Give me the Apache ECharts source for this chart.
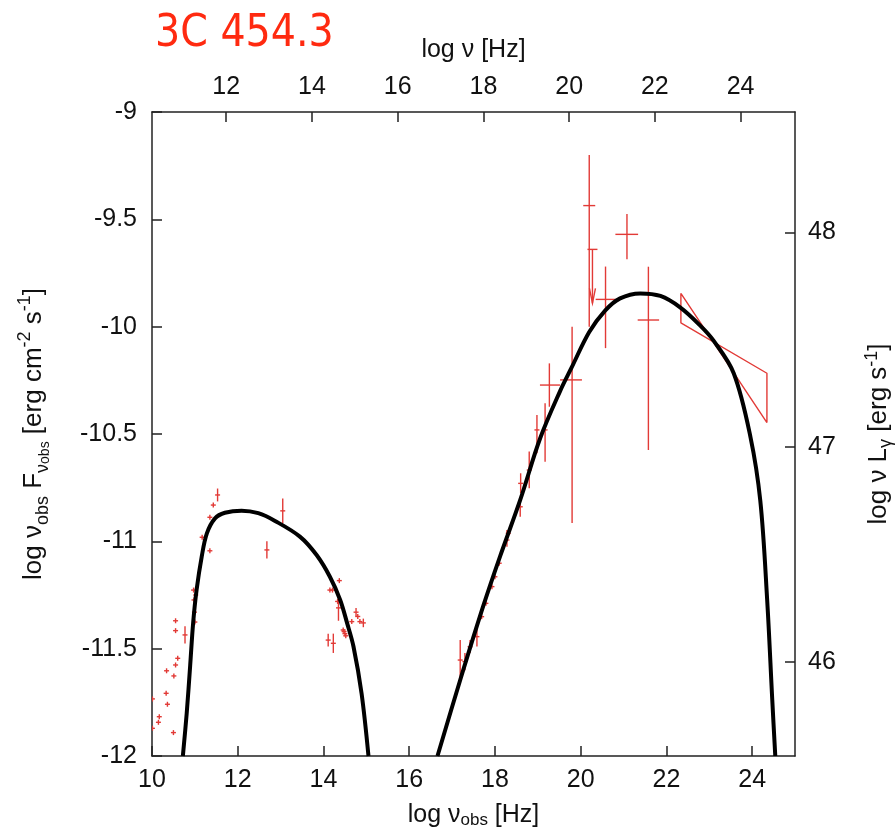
<!DOCTYPE html>
<html><head><meta charset="utf-8">
<script src="https://cdn.jsdelivr.net/npm/echarts@6/dist/echarts.min.js"></script>
<style>html,body{margin:0;padding:0;background:#fff}#c{width:895px;height:830px}</style>
</head><body><div id="c"></div>
<script>
// ---- axis ticks ----
const bottomTicks = [10, 12, 14, 16, 18, 20, 22, 24];
const topTicks = [12, 14, 16, 18, 20, 22, 24];
const rightTicks = [46, 47, 48];
const zShift = 0.269;      // log(1+z): rest-frame axis offset
const lumShift = 57.5604;  // luminosity axis offset

// ---- model curves (black) ----
const syncX = [10.72, 10.81, 10.89, 10.96, 11.04, 11.16, 11.28, 11.47, 11.70, 12.09, 12.48, 12.87, 13.45, 13.84, 14.15, 14.39, 14.55, 14.70, 14.89, 15.05];
const syncY = [-12.0, -11.80, -11.58, -11.38, -11.227, -11.071, -10.963, -10.893, -10.867, -10.857, -10.869, -10.905, -10.978, -11.064, -11.165, -11.273, -11.38, -11.49, -11.71, -12.0];
const icX = [16.66, 17.19, 17.73, 18.12, 18.59, 19.055, 19.52, 19.79, 20.20, 20.57, 20.92, 21.39, 21.86, 22.32, 22.79, 23.10, 23.57, 23.96, 24.19, 24.35, 24.47, 24.54];
const icY = [-12.0, -11.646, -11.30, -11.07, -10.807, -10.52, -10.30, -10.19, -10.025, -9.925, -9.868, -9.845, -9.857, -9.91, -9.995, -10.065, -10.217, -10.513, -10.81, -11.27, -11.74, -12.0];

// ---- low-energy data (radio/IR/optical/UV) ----
const lowX = [10.01,10.01,10.15,10.17,10.33,10.34,10.36,10.50,10.51,10.55,10.60,10.55,10.55,10.77,10.97,10.98,10.99,11.00,11.02,11.17,11.35,11.35,11.43,11.53,12.68,13.05,14.11,14.15,14.21,14.23,14.33,14.35,14.37,14.46,14.48,14.50,14.52,14.66,14.76,14.80,14.85,14.93];
const lowY = [-11.734,-11.871,-11.843,-11.817,-11.708,-11.603,-11.759,-11.891,-11.627,-11.576,-11.545,-11.37,-11.416,-11.436,-11.227,-11.273,-11.33,-11.376,-11.25,-10.981,-11.044,-10.888,-10.831,-10.784,-11.04,-10.858,-11.46,-11.227,-11.227,-11.475,-11.28,-11.31,-11.183,-11.413,-11.42,-11.43,-11.44,-11.374,-11.33,-11.35,-11.374,-11.38];
const lowErr = [0,0,0,0,0,0,0,0,0,0,0,0,0,0.04,0,0,0,0,0,0,0,0,0,0.03,0.04,0.058,0.03,0,0,0.045,0,0.06,0,0,0,0,0,0,0.02,0,0,0.02];

// ---- high-energy data (X-ray / gamma-ray) ----
const hiX   = [17.19,17.30,17.42,17.58,17.69,17.79,17.93,18.00,18.10,18.28,18.31,18.59,18.60,18.80,18.98,19.17,19.27,19.80,20.20,20.58,21.08,21.58];
const hiY   = [-11.553,-11.56,-11.491,-11.444,-11.351,-11.289,-11.211,-11.165,-11.102,-10.994,-10.963,-10.839,-10.73,-10.668,-10.481,-10.481,-10.272,-10.248,-9.436,-9.873,-9.570,-9.969];
const hiXlo = [17.19,17.30,17.42,17.58,17.69,17.79,17.93,18.00,18.10,18.28,18.31,18.59,18.60,18.80,18.98,19.17,19.05,19.52,20.06,20.35,20.81,21.33];
const hiXhi = [17.19,17.30,17.42,17.58,17.69,17.79,17.93,18.00,18.10,18.28,18.31,18.59,18.60,18.80,18.98,19.17,19.52,20.03,20.34,20.81,21.34,21.83];
const hiYlo = [-11.64,-11.60,-11.52,-11.49,-11.351,-11.289,-11.211,-11.165,-11.102,-11.025,-10.963,-10.885,-10.776,-10.753,-10.59,-10.629,-10.373,-10.915,-10.0,-10.10,-9.686,-10.5745];
const hiYhi = [-11.46,-11.52,-11.46,-11.40,-11.351,-11.289,-11.211,-11.165,-11.102,-10.947,-10.963,-10.807,-10.683,-10.582,-10.412,-10.357,-10.171,-10.0,-9.2,-9.72,-9.475,-9.7207];

// ---- upper limit ----
const ulX = [20.275];
const ulTop = [-9.64];
const ulBottom = [-9.891];

// ---- bowtie (gamma-ray spectrum) ----
const bowX = [22.338, 24.345, 24.345, 22.338, 22.338];
const bowY = [-9.8446, -10.447, -10.217, -9.982, -9.8446];

const RED = '#e23a36';
const FONT = 'Liberation Sans';
const TXT = '#111';

const zip = (a, b) => a.map((v, i) => [v, b[i]]);
const lowData = lowX.map((x, i) => [x, lowY[i], x, x, lowY[i] - lowErr[i], lowY[i] + lowErr[i]]);
const hiData = hiX.map((x, i) => [x, hiY[i], hiXlo[i], hiXhi[i], hiYlo[i], hiYhi[i]]);
const ulData = ulX.map((x, i) => [x, ulTop[i], ulBottom[i]]);

function errRender(params, api) {
  const x = api.value(0), y = api.value(1);
  const c = api.coord([x, y]);
  const xl = api.coord([api.value(2), y])[0], xh = api.coord([api.value(3), y])[0];
  const yl = api.coord([x, api.value(4)])[1], yh = api.coord([x, api.value(5)])[1];
  const m = 2.5;
  const style = { stroke: RED, lineWidth: 1.4, fill: null };
  return { type: 'group', children: [
    { type: 'line', shape: { x1: Math.min(xl, c[0] - m), y1: c[1], x2: Math.max(xh, c[0] + m), y2: c[1] }, style },
    { type: 'line', shape: { x1: c[0], y1: Math.max(yl, c[1] + m), x2: c[0], y2: Math.min(yh, c[1] - m) }, style }
  ]};
}
function ulRender(params, api) {
  const x = api.value(0);
  const t = api.coord([x, api.value(1)]);
  const b = api.coord([x, api.value(2)]);
  const style = { stroke: RED, lineWidth: 1.4, fill: null };
  return { type: 'group', children: [
    { type: 'line', shape: { x1: t[0], y1: t[1], x2: b[0], y2: b[1] }, style },
    { type: 'line', shape: { x1: t[0] - 5, y1: t[1], x2: t[0] + 5, y2: t[1] }, style },
    { type: 'polyline', shape: { points: [[b[0] - 3, b[1] - 15], [b[0], b[1]], [b[0] + 3, b[1] - 15]] }, style }
  ]};
}

const LBL = 25;
const TTL = 25;
const YTTL = 26;
const axisBase = {
  axisLine: { show: true, onZero: false, lineStyle: { color: '#222', width: 1.5 } },
  axisTick: { show: true, inside: true, length: 10, lineStyle: { color: '#222', width: 1.5 } },
  splitLine: { show: false },
  axisLabel: { color: TXT, fontFamily: FONT, fontSize: LBL },
  nameTextStyle: { color: TXT, fontFamily: FONT, fontSize: TTL }
};
function richSet(size, lh) {
  return {
    n: { fontSize: size, fontFamily: FONT, color: TXT, lineHeight: lh },
    s: { fontSize: Math.round(size * 0.68), fontFamily: FONT, color: TXT, verticalAlign: 'bottom', lineHeight: lh },
    ss: { fontSize: Math.round(size * 0.52), fontFamily: FONT, color: TXT, verticalAlign: 'bottom', lineHeight: lh + 4 },
    p: { fontSize: Math.round(size * 0.68), fontFamily: FONT, color: TXT, verticalAlign: 'top', lineHeight: lh }
  };
}

const chart = echarts.init(document.getElementById('c'), null, { renderer: 'canvas' });
chart.setOption({
  animation: false,
  backgroundColor: '#fff',
  title: {
    text: '3C 454.3', left: 150, top: 8,
    textStyle: { color: '#ff2a10', fontFamily: 'DejaVu Sans Condensed, DejaVu Sans', fontWeight: 'normal', fontSize: 44 }
  },
  grid: { left: 152, right: 100, top: 112, bottom: 74, show: false, outerBoundsMode: 'none', containLabel: false },
  xAxis: [
    Object.assign({}, axisBase, {
      type: 'value', position: 'bottom', min: 10, max: 25,
      name: '{n|log ν}{s|obs}{n| [Hz]}', nameLocation: 'middle', nameGap: 45,
      nameTextStyle: Object.assign({}, axisBase.nameTextStyle, { rich: richSet(TTL, 28) }),
      axisTick: Object.assign({}, axisBase.axisTick, { customValues: bottomTicks }),
      axisLabel: Object.assign({}, axisBase.axisLabel, { customValues: bottomTicks, margin: 12 })
    }),
    Object.assign({}, axisBase, {
      type: 'value', position: 'top', min: 10 + zShift, max: 25 + zShift,
      name: 'log ν [Hz]', nameLocation: 'middle', nameGap: 49,
      axisTick: Object.assign({}, axisBase.axisTick, { customValues: topTicks }),
      axisLabel: Object.assign({}, axisBase.axisLabel, { customValues: topTicks, margin: 12 })
    })
  ],
  yAxis: [
    Object.assign({}, axisBase, {
      type: 'value', position: 'left', min: -12, max: -9, interval: 0.5,
      name: '{n|log ν}{s|obs}{n| F}{s|ν}{ss|obs}{n| [erg cm}{p|-2}{n| s}{p|-1}{n|]}',
      nameLocation: 'middle', nameGap: 100, nameRotate: 90,
      nameTextStyle: Object.assign({}, axisBase.nameTextStyle, { fontSize: YTTL, rich: richSet(YTTL, 32) }),
      axisLabel: Object.assign({}, axisBase.axisLabel, { margin: 15 })
    }),
    Object.assign({}, axisBase, {
      type: 'value', position: 'right', min: -12 + lumShift, max: -9 + lumShift,
      name: '{n|log ν L}{s|γ}{n| [erg s}{p|-1}{n|]}',
      nameLocation: 'middle', nameGap: 68, nameRotate: 90,
      nameTextStyle: Object.assign({}, axisBase.nameTextStyle, { fontSize: YTTL, rich: richSet(YTTL, 32) }),
      axisTick: Object.assign({}, axisBase.axisTick, { customValues: rightTicks }),
      axisLabel: Object.assign({}, axisBase.axisLabel, { customValues: rightTicks, margin: 13 })
    })
  ],
  series: [
    { type: 'custom', name: 'low', xAxisIndex: 0, yAxisIndex: 0, renderItem: errRender, data: lowData, clip: true, z: 3 },
    { type: 'custom', name: 'high', xAxisIndex: 0, yAxisIndex: 0, renderItem: errRender, data: hiData, clip: true, z: 3 },
    { type: 'custom', name: 'ul', xAxisIndex: 0, yAxisIndex: 0, renderItem: ulRender, data: ulData, clip: true, z: 3 },
    { type: 'line', name: 'bowtie', xAxisIndex: 0, yAxisIndex: 0, data: zip(bowX, bowY), symbol: 'none',
      lineStyle: { color: RED, width: 1.4 }, z: 3 },
    { type: 'line', name: 'sync', xAxisIndex: 0, yAxisIndex: 0, data: zip(syncX, syncY), smooth: 0.35, symbol: 'none',
      clip: true, lineStyle: { color: '#000', width: 4 }, z: 4 },
    { type: 'line', name: 'ic', xAxisIndex: 0, yAxisIndex: 0, data: zip(icX, icY), smooth: 0.35, symbol: 'none',
      clip: true, lineStyle: { color: '#000', width: 4 }, z: 4 }
  ]
});
</script>
</body></html>
